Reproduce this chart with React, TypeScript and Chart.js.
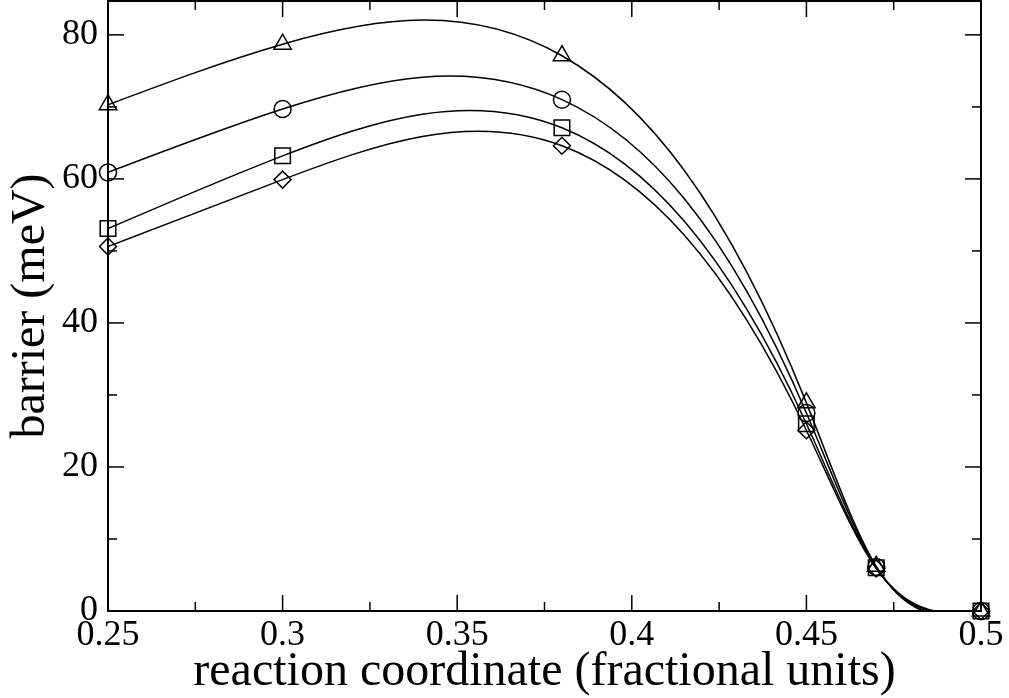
import React, { useEffect, useRef } from 'react';
import { Chart, registerables } from 'chart.js';

Chart.register(...registerables);

// ---- data ----
const X_VALUES = [0.25, 0.3, 0.38, 0.45, 0.47, 0.5];
const TRIANGLE = [70.3, 78.7, 77.1, 28.9, 6.2, 0];
const CIRCLE = [60.9, 69.7, 71.0, 27.5, 6.1, 0];
const SQUARE = [53.1, 63.2, 67.1, 26.0, 6.0, 0];
const DIAMOND = [50.6, 59.9, 64.6, 25.1, 5.9, 0];

const X_TICKS = [0.25, 0.3, 0.35, 0.4, 0.45, 0.5];
const X_TICK_LABELS = ['0.25', '0.3', '0.35', '0.4', '0.45', '0.5'];
const X_MINOR = [0.275, 0.325, 0.375, 0.425, 0.475];
const Y_TICKS = [0, 20, 40, 60, 80];
const Y_TICK_LABELS = ['0', '20', '40', '60', '80'];
const Y_MINOR = [10, 30, 50, 70];

const X_TITLE = 'reaction coordinate (fractional units)';
const Y_TITLE = 'barrier (meV)';

const SERIF = '"Liberation Serif", "DejaVu Serif", "Times New Roman", serif';

// Natural cubic spline through the dataset's own points (pixel space via the scales),
// expressed as Bezier control points on Chart.js point elements.
const splinePlugin = {
  id: 'naturalSpline',
  beforeDatasetDraw(chart: any, args: any) {
    const ds: any = chart.data.datasets[args.index];
    if (!ds || !ds.spline) return;
    const meta = args.meta;
    const line = meta.dataset;
    if (!line) return;
    line.updateControlPoints(chart.chartArea, 'x');
    const pts = meta.data;
    const n = pts.length;
    if (n < 3) return;
    const xs = pts.map((p: any) => p.x);
    const ys = pts.map((p: any) => p.y);
    const h: number[] = [];
    for (let i = 0; i < n - 1; i++) h.push(xs[i + 1] - xs[i]);
    const a: number[] = [], b: number[] = [], c: number[] = [], d: number[] = [];
    for (let i = 1; i < n - 1; i++) {
      a.push(h[i - 1]);
      b.push(2 * (h[i - 1] + h[i]));
      c.push(h[i]);
      d.push(6 * ((ys[i + 1] - ys[i]) / h[i] - (ys[i] - ys[i - 1]) / h[i - 1]));
    }
    const m = b.length;
    for (let i = 1; i < m; i++) {
      const w = a[i] / b[i - 1];
      b[i] -= w * c[i - 1];
      d[i] -= w * d[i - 1];
    }
    const sol: number[] = new Array(m).fill(0);
    for (let i = m - 1; i >= 0; i--) {
      sol[i] = (d[i] - (i < m - 1 ? c[i] * sol[i + 1] : 0)) / b[i];
    }
    const M: number[] = new Array(n).fill(0);
    for (let i = 0; i < m; i++) M[i + 1] = sol[i];
    for (let i = 0; i < n - 1; i++) {
      const hi = h[i];
      const s = (ys[i + 1] - ys[i]) / hi;
      const d0 = s - (hi * (2 * M[i] + M[i + 1])) / 6;
      const d1 = s + (hi * (M[i] + 2 * M[i + 1])) / 6;
      pts[i].cp2x = xs[i] + hi / 3;
      pts[i].cp2y = ys[i] + (d0 * hi) / 3;
      pts[i + 1].cp1x = xs[i + 1] - hi / 3;
      pts[i + 1].cp1y = ys[i + 1] - (d1 * hi) / 3;
    }
  },
};

// Frame and inward ticks on all four sides.
const framePlugin = {
  id: 'frameTicks',
  afterDraw(chart: any) {
    const { ctx, chartArea } = chart;
    const { left, right, top, bottom } = chartArea;
    const xs = chart.scales.x;
    const ys = chart.scales.y;
    ctx.save();
    ctx.strokeStyle = '#000';
    ctx.lineWidth = 1.5;
    const seg = (x1: number, y1: number, x2: number, y2: number) => {
      ctx.beginPath();
      ctx.moveTo(x1, y1);
      ctx.lineTo(x2, y2);
      ctx.stroke();
    };
    const MAJOR = 16;
    const MINOR = 9;
    X_TICKS.forEach((v) => {
      const p = xs.getPixelForValue(v);
      seg(p, bottom, p, bottom - MAJOR);
      seg(p, top, p, top + MAJOR);
    });
    X_MINOR.forEach((v) => {
      const p = xs.getPixelForValue(v);
      seg(p, bottom, p, bottom - MINOR);
      seg(p, top, p, top + MINOR);
    });
    Y_TICKS.forEach((v) => {
      const p = ys.getPixelForValue(v);
      seg(left, p, left + MAJOR, p);
      seg(right, p, right - MAJOR, p);
    });
    Y_MINOR.forEach((v) => {
      const p = ys.getPixelForValue(v);
      seg(left, p, left + MINOR, p);
      seg(right, p, right - MINOR, p);
    });
    ctx.lineWidth = 2;
    ctx.strokeRect(left, top, right - left, bottom - top);
    ctx.restore();
  },
};

const SERIES = [
  { values: TRIANGLE, style: 'triangle', radius: 10 },
  { values: CIRCLE, style: 'circle', radius: 8.5 },
  { values: SQUARE, style: 'rect', radius: 11 },
  { values: DIAMOND, style: 'rectRot', radius: 8.5 },
];

export default function App() {
  const canvasRef = useRef<HTMLCanvasElement | null>(null);

  useEffect(() => {
    if (!canvasRef.current) return;
    const datasets: any[] = [];
    SERIES.forEach((s) => {
      const pts = X_VALUES.map((x, i) => ({ x, y: s.values[i] }));
      datasets.push({
        data: pts,
        spline: true,
        borderColor: '#000',
        borderWidth: 1.5,
        pointRadius: 0,
        pointHoverRadius: 0,
        tension: 0.4,
        fill: false,
      });
      datasets.push({
        data: pts,
        showLine: false,
        pointStyle: s.style,
        pointRadius: s.radius,
        pointBorderColor: '#000',
        pointBorderWidth: 1.5,
        pointBackgroundColor: 'rgba(0,0,0,0)',
        clip: false,
      });
    });

    const chart = new Chart(canvasRef.current, {
      type: 'line',
      data: { datasets },
      plugins: [splinePlugin, framePlugin],
      options: {
        animation: false,
        responsive: true,
        maintainAspectRatio: false,
        layout: { autoPadding: false, padding: { top: 1, right: 28, left: 0, bottom: 0 } },
        plugins: {
          legend: { display: false },
          tooltip: { enabled: false },
        },
        scales: {
          x: {
            type: 'linear',
            min: 0.25,
            max: 0.5,
            afterBuildTicks: (scale: any) => {
              scale.ticks = X_TICKS.map((v) => ({ value: v }));
            },
            afterFit: (scale: any) => {
              scale.height = 87;
              scale.paddingLeft = 0;
              scale.paddingRight = 0;
            },
            grid: { display: false, drawTicks: false },
            border: { display: false },
            ticks: {
              color: '#000',
              padding: 3,
              maxRotation: 0,
              autoSkip: false,
              font: { family: SERIF, size: 36 },
              callback: (v: any) => {
                const i = X_TICKS.findIndex((t) => Math.abs(t - v) < 1e-9);
                return i >= 0 ? X_TICK_LABELS[i] : '';
              },
            },
            title: {
              display: true,
              text: X_TITLE,
              color: '#000',
              font: { family: SERIF, size: 48, lineHeight: 1 },
              padding: { top: 0, bottom: 2 },
            },
          },
          y: {
            type: 'linear',
            min: 0,
            max: 84.7,
            afterBuildTicks: (scale: any) => {
              scale.ticks = Y_TICKS.map((v) => ({ value: v }));
            },
            afterFit: (scale: any) => {
              scale.width = 108;
              scale.paddingTop = 0;
              scale.paddingBottom = 0;
            },
            grid: { display: false, drawTicks: false },
            border: { display: false },
            ticks: {
              color: '#000',
              padding: 10,
              autoSkip: false,
              font: { family: SERIF, size: 36 },
              callback: (v: any) => {
                const i = Y_TICKS.findIndex((t) => Math.abs(t - v) < 1e-9);
                return i >= 0 ? Y_TICK_LABELS[i] : '';
              },
            },
            title: {
              display: true,
              text: Y_TITLE,
              color: '#000',
              font: { family: SERIF, size: 48, lineHeight: 1 },
              padding: { top: 7, bottom: 0 },
            },
          },
        },
      } as any,
    });
    return () => chart.destroy();
  }, []);

  return (
    <div
      style={{
        position: 'fixed',
        left: 0,
        top: 0,
        width: 1009,
        height: 698,
        background: '#fff',
      }}
    >
      <canvas ref={canvasRef} />
    </div>
  );
}
